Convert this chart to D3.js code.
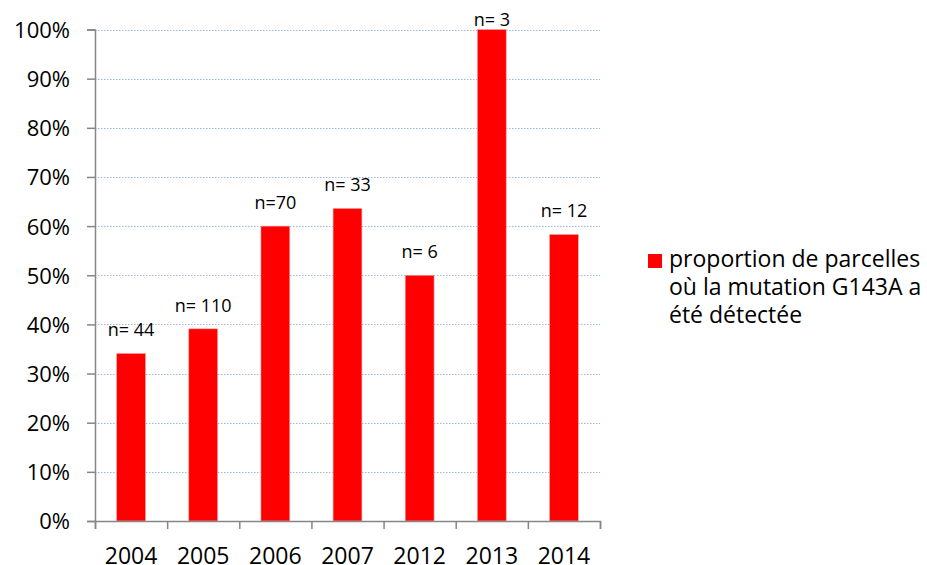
<!DOCTYPE html>
<html lang="fr">
<head>
<meta charset="UTF-8">
<title>G143A</title>
<style>
  body { margin: 0; background: #fff; }
  text { font-family: "Open Sans", sans-serif; fill: #000; }
</style>
</head>
<body>
<div id="chart"></div>
<script src="https://d3js.org/d3.v7.min.js"></script>
<script>
// data
var years = ["2004", "2005", "2006", "2007", "2012", "2013", "2014"];
var proportions = [0.341, 0.391, 0.600, 0.636, 0.500, 1.000, 0.583];
var sampleLabels = ["n= 44", "n= 110", "n=70", "n= 33", "n= 6", "n= 3", "n= 12"];
var yTicks = [0, 0.1, 0.2, 0.3, 0.4, 0.5, 0.6, 0.7, 0.8, 0.9, 1.0];
var legendLines = ["proportion de parcelles", "où la mutation G143A a", "été détectée"];

var width = 927, height = 565;
var margin = {left: 95, right: 600, top: 29.5, bottom: 521};

var svg = d3.select("#chart").append("svg")
  .attr("width", width)
  .attr("height", height);

var x = d3.scaleBand()
  .domain(years)
  .range([margin.left, margin.right])
  .paddingInner(0.6)
  .paddingOuter(0.3);

var y = d3.scaleLinear()
  .domain([0, 1])
  .range([margin.bottom, margin.top]);

// gridlines (dotted blue)
svg.append("g")
  .selectAll("line")
  .data(yTicks.filter(function(d) { return d > 0; }))
  .enter().append("line")
    .attr("x1", margin.left)
    .attr("x2", margin.right)
    .attr("y1", function(d) { return Math.round(y(d)) + 0.5; })
    .attr("y2", function(d) { return Math.round(y(d)) + 0.5; })
    .attr("stroke", "#9db8e6")
    .attr("stroke-width", 1)
    .attr("stroke-dasharray", "1.5,1.5");

// bars
svg.append("g")
  .selectAll("rect")
  .data(years)
  .enter().append("rect")
    .attr("x", function(d) { return x(d); })
    .attr("y", function(d, i) { return y(proportions[i]); })
    .attr("width", x.bandwidth())
    .attr("height", function(d, i) { return margin.bottom - y(proportions[i]); })
    .attr("fill", "#ff0000")
    .attr("stroke", "#f7a8a8")
    .attr("stroke-width", 0.6);

// n labels above bars
svg.append("g")
  .selectAll("text")
  .data(years)
  .enter().append("text")
    .attr("x", function(d) { return x(d) + x.bandwidth() / 2; })
    .attr("y", function(d, i) { return Math.max(y(proportions[i]) - 17, margin.top - 4); })
    .attr("text-anchor", "middle")
    .attr("font-size", "18px")
    .text(function(d, i) { return sampleLabels[i]; });

// y axis
var yAxis = svg.append("g")
  .attr("transform", "translate(" + margin.left + ",0)")
  .call(d3.axisLeft(y).tickValues(yTicks).tickSize(8).tickPadding(17)
    .tickFormat(d3.format(".0%")));
yAxis.select(".domain").attr("stroke", "#868686").attr("stroke-width", 1.5);
yAxis.selectAll(".tick line").attr("stroke", "#868686").attr("stroke-width", 1.5);
yAxis.selectAll(".tick text")
  .attr("font-size", "22px")
  .attr("font-family", "'Open Sans', sans-serif")
  .attr("fill", "#000")
  .attr("dy", "0.36em");

// x axis: ticks between categories
var xi = d3.scaleLinear().domain([0, years.length]).range([margin.left, margin.right]);
var xTickAxis = svg.append("g")
  .attr("transform", "translate(0," + margin.bottom + ")")
  .call(d3.axisBottom(xi).tickValues(d3.range(years.length + 1)).tickSize(8).tickFormat(""));
xTickAxis.select(".domain").attr("stroke", "#868686").attr("stroke-width", 1.5);
xTickAxis.selectAll(".tick line").attr("stroke", "#868686").attr("stroke-width", 1.5);

var xAxis = svg.append("g")
  .attr("transform", "translate(0," + margin.bottom + ")")
  .call(d3.axisBottom(x).tickSize(0).tickPadding(27));
xAxis.select(".domain").remove();
xAxis.selectAll(".tick text")
  .attr("font-size", "23px")
  .attr("font-family", "'Open Sans', sans-serif")
  .attr("fill", "#000");

// legend
var legend = svg.append("g").attr("transform", "translate(648,254)");
legend.append("rect")
  .attr("width", 14)
  .attr("height", 14)
  .attr("fill", "#ff0000");
legend.selectAll("text.leg")
  .data(legendLines)
  .enter().append("text")
    .attr("class", "leg")
    .attr("x", 21)
    .attr("y", function(d, i) { return 13 + i * 28; })
    .attr("font-size", "23px")
    .text(function(d) { return d; });
</script>
</body>
</html>
